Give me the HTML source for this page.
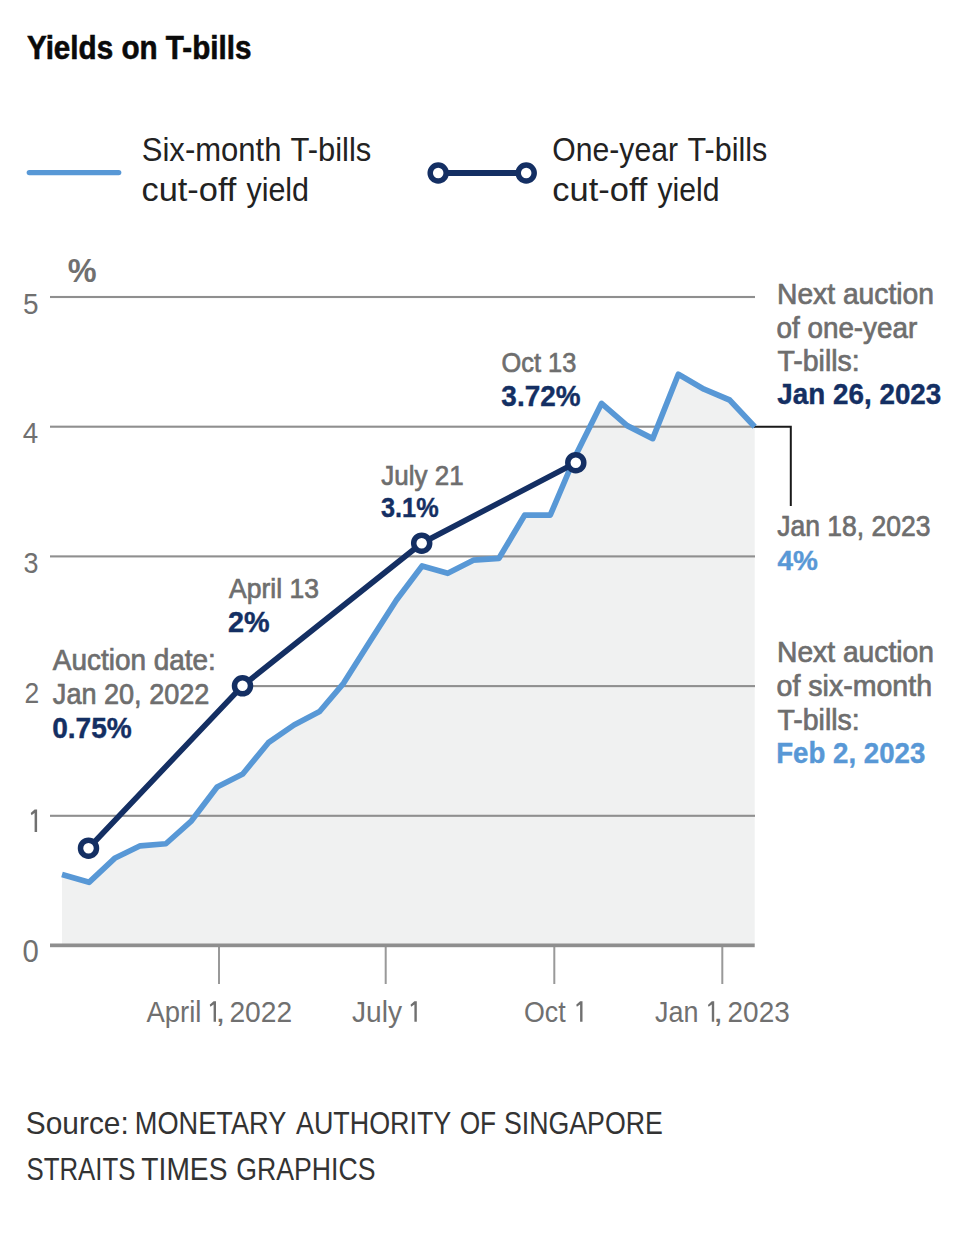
<!DOCTYPE html>
<html><head><meta charset="utf-8"><style>
html,body{margin:0;padding:0;background:#fff;}
svg{display:block;}
text{font-family:"Liberation Sans",sans-serif;}
</style></head><body>
<svg width="960" height="1238" viewBox="0 0 960 1238">
<rect width="960" height="1238" fill="#fff"/>

<path d="M62.00,945.5 L62.00,874.40 L89.00,882.30 L114.62,858.30 L140.25,845.80 L165.87,843.75 L191.50,820.80 L217.12,787.00 L242.75,774.00 L268.37,742.70 L293.99,725.00 L319.62,711.50 L343.50,683.30 L370.87,640.00 L396.49,600.00 L422.11,566.00 L447.74,573.30 L473.36,560.20 L498.99,558.30 L524.61,515.20 L550.24,515.20 L575.86,455.00 L601.48,403.40 L627.11,425.60 L652.73,438.60 L678.36,374.30 L703.98,389.20 L729.61,400.00 L754.70,426.70 L754.70,945.5 Z" fill="#f0f1f1"/>
<rect x="50" y="295.95" width="705" height="2.1" fill="#8f8f8f"/>
<rect x="50" y="425.65" width="705" height="2.1" fill="#8f8f8f"/>
<rect x="50" y="555.35" width="705" height="2.1" fill="#8f8f8f"/>
<rect x="50" y="814.75" width="705" height="2.1" fill="#8f8f8f"/>
<rect x="243" y="685.05" width="512" height="2.1" fill="#8f8f8f"/>
<rect x="218.00" y="946" width="2" height="38" fill="#999"/>
<rect x="384.70" y="946" width="2" height="38" fill="#999"/>
<rect x="553.30" y="946" width="2" height="38" fill="#999"/>
<rect x="721.30" y="946" width="2" height="38" fill="#999"/>
<rect x="50" y="943.5" width="704.7" height="3.7" fill="#8e8e8e"/>
<path d="M754,426.7 H790.8 V506" fill="none" stroke="#1a1a1a" stroke-width="2"/>
<path d="M62.00,874.40 L89.00,882.30 L114.62,858.30 L140.25,845.80 L165.87,843.75 L191.50,820.80 L217.12,787.00 L242.75,774.00 L268.37,742.70 L293.99,725.00 L319.62,711.50 L343.50,683.30 L370.87,640.00 L396.49,600.00 L422.11,566.00 L447.74,573.30 L473.36,560.20 L498.99,558.30 L524.61,515.20 L550.24,515.20 L575.86,455.00 L601.48,403.40 L627.11,425.60 L652.73,438.60 L678.36,374.30 L703.98,389.20 L729.61,400.00 L754.70,426.70" fill="none" stroke="#5898d6" stroke-width="5.7" stroke-linejoin="round" stroke-linecap="butt"/>
<path d="M88.5,848.2 L242.5,685.8 L421.7,543.2 L575.8,462.7" fill="none" stroke="#142f63" stroke-width="5.6"/>
<circle cx="88.5" cy="848.2" r="8" fill="#fff" stroke="#142f63" stroke-width="5.5"/>
<circle cx="242.5" cy="685.8" r="8" fill="#fff" stroke="#142f63" stroke-width="5.5"/>
<circle cx="421.7" cy="543.2" r="8" fill="#fff" stroke="#142f63" stroke-width="5.5"/>
<circle cx="575.8" cy="462.7" r="8" fill="#fff" stroke="#142f63" stroke-width="5.5"/>
<line x1="29.3" y1="172.6" x2="118.7" y2="172.6" stroke="#5898d6" stroke-width="5.3" stroke-linecap="round"/>
<line x1="438.2" y1="173" x2="526.2" y2="173" stroke="#142f63" stroke-width="5.8"/>
<circle cx="438.2" cy="173" r="8" fill="#fff" stroke="#142f63" stroke-width="5.5"/>
<circle cx="526.2" cy="173" r="8" fill="#fff" stroke="#142f63" stroke-width="5.5"/>
<text id="title" x="26.97" y="58.75" font-size="32.70" font-weight="700" fill="#0a0a0a" stroke="#0a0a0a" stroke-width="0.6" textLength="224.46" lengthAdjust="spacingAndGlyphs">Yields on T-bills</text>
<text id="pct" x="67.63" y="282.00" font-size="33.79" font-weight="700" fill="#707070" textLength="28.84" lengthAdjust="spacingAndGlyphs">%</text>
<text id="y5" x="23.12" y="313.75" font-size="30.16" font-weight="400" fill="#707070" textLength="15.57" lengthAdjust="spacingAndGlyphs">5</text>
<text id="y4" x="22.87" y="443.00" font-size="29.07" font-weight="400" fill="#707070" textLength="15.43" lengthAdjust="spacingAndGlyphs">4</text>
<text id="y3" x="23.44" y="572.80" font-size="29.94" font-weight="400" fill="#707070" textLength="15.00" lengthAdjust="spacingAndGlyphs">3</text>
<text id="y2" x="24.39" y="702.80" font-size="30.23" font-weight="400" fill="#707070" textLength="14.73" lengthAdjust="spacingAndGlyphs">2</text>
<path id="y1" d="M34.6,809.4 L37.1,809.4 L37.1,832 L34.6,832 L34.6,812.9 L31.5,815.2 L30.7,813.1 Z" fill="#707070"/>
<text id="y0" x="22.38" y="962.00" font-size="30.52" font-weight="400" fill="#707070" textLength="16.30" lengthAdjust="spacingAndGlyphs">0</text>
<text id="xa0" x="146.45" y="1021.70" font-size="29.07" font-weight="400" fill="#707070" textLength="54.94" lengthAdjust="spacingAndGlyphs">April</text>
<text id="xa1" x="215.22" y="1021.70" font-size="29.07" font-weight="400" fill="#707070" textLength="10.24" lengthAdjust="spacingAndGlyphs">,</text>
<text id="xa2" x="229.38" y="1021.70" font-size="29.07" font-weight="400" fill="#707070" textLength="62.67" lengthAdjust="spacingAndGlyphs">2022</text>
<text id="xb0" x="351.99" y="1021.50" font-size="29.07" font-weight="400" fill="#707070" textLength="50.03" lengthAdjust="spacingAndGlyphs">July</text>
<text id="xc0" x="524.06" y="1021.50" font-size="29.07" font-weight="400" fill="#707070" textLength="41.65" lengthAdjust="spacingAndGlyphs">Oct</text>
<text id="xd0" x="655.06" y="1021.50" font-size="29.07" font-weight="400" fill="#707070" textLength="43.40" lengthAdjust="spacingAndGlyphs">Jan</text>
<text id="xd1" x="713.14" y="1021.50" font-size="29.07" font-weight="400" fill="#707070" textLength="10.23" lengthAdjust="spacingAndGlyphs">,</text>
<text id="xd2" x="727.54" y="1021.50" font-size="29.07" font-weight="400" fill="#707070" textLength="62.21" lengthAdjust="spacingAndGlyphs">2023</text>
<text id="a1a" x="52.86" y="670.20" font-size="28.78" font-weight="400" fill="#6e6e6e" stroke="#6e6e6e" stroke-width="0.7" textLength="162.98" lengthAdjust="spacingAndGlyphs">Auction date:</text>
<text id="a1b" x="52.85" y="703.50" font-size="28.78" font-weight="400" fill="#6e6e6e" stroke="#6e6e6e" stroke-width="0.7" textLength="156.52" lengthAdjust="spacingAndGlyphs">Jan 20, 2022</text>
<text id="a1c" x="52.14" y="737.50" font-size="28.78" font-weight="700" fill="#142f63" stroke="#142f63" stroke-width="0.4" textLength="79.64" lengthAdjust="spacingAndGlyphs">0.75%</text>
<text id="a2a" x="229.09" y="597.50" font-size="27.25" font-weight="400" fill="#6e6e6e" stroke="#6e6e6e" stroke-width="0.7" textLength="89.82" lengthAdjust="spacingAndGlyphs">April 13</text>
<text id="a2b" x="228.12" y="631.90" font-size="28.92" font-weight="700" fill="#142f63" stroke="#142f63" stroke-width="0.4" textLength="41.61" lengthAdjust="spacingAndGlyphs">2%</text>
<text id="a3a" x="381.30" y="484.70" font-size="27.76" font-weight="400" fill="#6e6e6e" stroke="#6e6e6e" stroke-width="0.7" textLength="82.29" lengthAdjust="spacingAndGlyphs">July 21</text>
<text id="a3b" x="381.03" y="517.00" font-size="28.34" font-weight="700" fill="#142f63" stroke="#142f63" stroke-width="0.4" textLength="57.63" lengthAdjust="spacingAndGlyphs">3.1%</text>
<text id="a4a" x="501.61" y="371.50" font-size="28.34" font-weight="400" fill="#6e6e6e" stroke="#6e6e6e" stroke-width="0.7" textLength="74.63" lengthAdjust="spacingAndGlyphs">Oct 13</text>
<text id="a4b" x="501.36" y="405.90" font-size="29.22" font-weight="700" fill="#142f63" stroke="#142f63" stroke-width="0.4" textLength="79.13" lengthAdjust="spacingAndGlyphs">3.72%</text>
<text id="n1a" x="776.99" y="303.50" font-size="29.07" font-weight="400" fill="#6e6e6e" stroke="#6e6e6e" stroke-width="0.7" textLength="157.00" lengthAdjust="spacingAndGlyphs">Next auction</text>
<text id="n1b" x="776.50" y="337.70" font-size="29.07" font-weight="400" fill="#6e6e6e" stroke="#6e6e6e" stroke-width="0.7" textLength="140.74" lengthAdjust="spacingAndGlyphs">of one-year</text>
<text id="n1c" x="777.45" y="371.00" font-size="29.07" font-weight="400" fill="#6e6e6e" stroke="#6e6e6e" stroke-width="0.7" textLength="82.24" lengthAdjust="spacingAndGlyphs">T-bills:</text>
<text id="n1d" x="777.36" y="404.40" font-size="28.92" font-weight="700" fill="#142f63" stroke="#142f63" stroke-width="0.4" textLength="163.96" lengthAdjust="spacingAndGlyphs">Jan 26, 2023</text>
<text id="j18" x="777.22" y="535.60" font-size="28.63" font-weight="400" fill="#6e6e6e" stroke="#6e6e6e" stroke-width="0.7" textLength="153.27" lengthAdjust="spacingAndGlyphs">Jan 18, 2023</text>
<text id="j18b" x="777.59" y="569.80" font-size="27.33" font-weight="700" fill="#5898d6" stroke="#5898d6" stroke-width="0.4" textLength="40.40" lengthAdjust="spacingAndGlyphs">4%</text>
<text id="n2a" x="777.01" y="662.30" font-size="28.78" font-weight="400" fill="#6e6e6e" stroke="#6e6e6e" stroke-width="0.7" textLength="156.96" lengthAdjust="spacingAndGlyphs">Next auction</text>
<text id="n2b" x="776.55" y="696.25" font-size="29.07" font-weight="400" fill="#6e6e6e" stroke="#6e6e6e" stroke-width="0.7" textLength="155.51" lengthAdjust="spacingAndGlyphs">of six-month</text>
<text id="n2c" x="777.45" y="730.00" font-size="29.07" font-weight="400" fill="#6e6e6e" stroke="#6e6e6e" stroke-width="0.7" textLength="82.24" lengthAdjust="spacingAndGlyphs">T-bills:</text>
<text id="n2d" x="776.17" y="763.30" font-size="28.78" font-weight="700" fill="#5898d6" stroke="#5898d6" stroke-width="0.4" textLength="149.17" lengthAdjust="spacingAndGlyphs">Feb 2, 2023</text>
<text id="lg1a0" x="141.77" y="161.25" font-size="32.70" font-weight="400" fill="#222222" textLength="139.73" lengthAdjust="spacingAndGlyphs">Six-month</text>
<text id="lg1a1" x="290.48" y="161.25" font-size="32.70" font-weight="400" fill="#222222" textLength="80.83" lengthAdjust="spacingAndGlyphs">T-bills</text>
<text id="lg1b0" x="141.52" y="201.25" font-size="32.70" font-weight="400" fill="#222222" textLength="94.89" lengthAdjust="spacingAndGlyphs">cut-off</text>
<text id="lg1b1" x="246.42" y="201.25" font-size="32.70" font-weight="400" fill="#222222" textLength="62.63" lengthAdjust="spacingAndGlyphs">yield</text>
<text id="lg2a0" x="552.34" y="161.25" font-size="32.70" font-weight="400" fill="#222222" textLength="125.61" lengthAdjust="spacingAndGlyphs">One-year</text>
<text id="lg2a1" x="687.59" y="161.25" font-size="32.70" font-weight="400" fill="#222222" textLength="79.69" lengthAdjust="spacingAndGlyphs">T-bills</text>
<text id="lg2b0" x="552.36" y="201.25" font-size="32.70" font-weight="400" fill="#222222" textLength="95.06" lengthAdjust="spacingAndGlyphs">cut-off</text>
<text id="lg2b1" x="657.49" y="201.25" font-size="32.70" font-weight="400" fill="#222222" textLength="61.93" lengthAdjust="spacingAndGlyphs">yield</text>
<text id="src1a" x="25.86" y="1133.50" font-size="31.98" font-weight="400" fill="#333333" textLength="102.87" lengthAdjust="spacingAndGlyphs">Source:</text>
<text id="src1b" x="134.85" y="1133.50" font-size="31.98" font-weight="400" fill="#333333" textLength="151.47" lengthAdjust="spacingAndGlyphs">MONETARY</text>
<text id="src1c" x="296.01" y="1133.50" font-size="31.98" font-weight="400" fill="#333333" textLength="155.23" lengthAdjust="spacingAndGlyphs">AUTHORITY</text>
<text id="src1d" x="459.65" y="1133.50" font-size="31.98" font-weight="400" fill="#333333" textLength="36.49" lengthAdjust="spacingAndGlyphs">OF</text>
<text id="src1e" x="504.01" y="1133.50" font-size="31.98" font-weight="400" fill="#333333" textLength="158.82" lengthAdjust="spacingAndGlyphs">SINGAPORE</text>
<text id="src2a" x="26.48" y="1179.50" font-size="31.25" font-weight="400" fill="#333333" textLength="108.97" lengthAdjust="spacingAndGlyphs">STRAITS</text>
<text id="src2b" x="141.36" y="1179.50" font-size="31.25" font-weight="400" fill="#333333" textLength="86.08" lengthAdjust="spacingAndGlyphs">TIMES</text>
<text id="src2c" x="236.31" y="1179.50" font-size="31.25" font-weight="400" fill="#333333" textLength="139.10" lengthAdjust="spacingAndGlyphs">GRAPHICS</text>
<path id="one0" d="M213.60,1001.20 L216.00,1001.20 L216.00,1021.80 L213.60,1021.80 L213.60,1004.50 L210.40,1006.70 L209.70,1004.80 Z" fill="#707070"/>
<path id="one1" d="M414.40,1001.25 L416.80,1001.25 L416.80,1021.70 L414.40,1021.70 L414.40,1004.55 L411.20,1006.75 L410.50,1004.85 Z" fill="#707070"/>
<path id="one2" d="M580.10,1001.25 L582.50,1001.25 L582.50,1021.80 L580.10,1021.80 L580.10,1004.55 L576.90,1006.75 L576.20,1004.85 Z" fill="#707070"/>
<path id="one3" d="M711.80,1001.30 L714.20,1001.30 L714.20,1021.70 L711.80,1021.70 L711.80,1004.60 L708.60,1006.80 L707.90,1004.90 Z" fill="#707070"/>
</svg>
</body></html>
